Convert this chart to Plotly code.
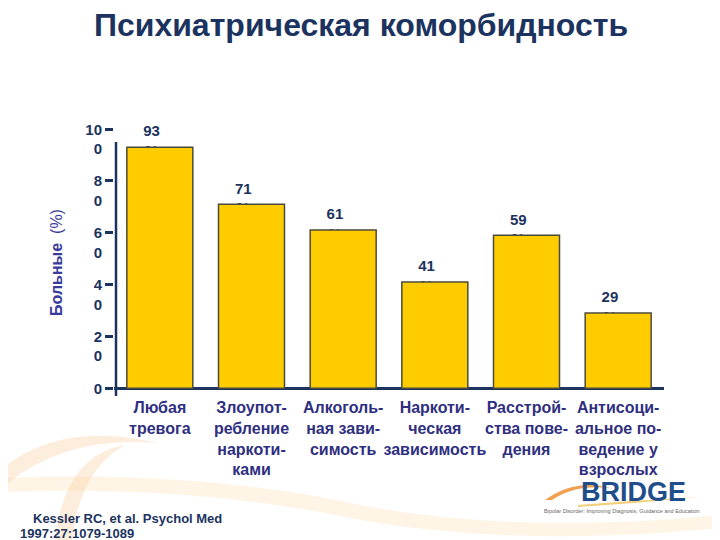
import plotly.graph_objects as go

# ---- data ----
categories = ["Любая<br>тревога",
              "Злоупот-<br>ребление<br>наркоти-<br>ками",
              "Алкоголь-<br>ная зави-<br>симость",
              "Наркоти-<br>ческая<br>зависимость",
              "Расстрой-<br>ства пове-<br>дения",
              "Антисоци-<br>альное по-<br>ведение у<br>взрослых"]
values = [93, 71, 61, 41, 59, 29]
value_labels = ["93<br>%", "71<br>%", "61<br>%", "41<br>%", "59<br>%", "29<br>%"]
y_tickvals = [0, 20, 40, 60, 80, 100]
y_ticktext = ["0<br> ", "2<br>0", "4<br>0", "6<br>0", "8<br>0", "10<br>0"]

title = "Психиатрическая коморбидность"
y_title = "<b>Больные</b>  (%)"
source_1 = "Kessler RC, et al. Psychol Med"
source_2 = "1997:27:1079-1089"

FONT = "Liberation Sans, Arial, sans-serif"
NAVY = "#1c3360"
LABEL = "#2f2f7f"

# page body has an 8px margin: figure origin sits at (8, 8) of the window
OFF = 8
W, H = 720 - OFF, 540 - OFF
# plot area in window pixels
L, R, T, B = 114, 664, 129, 396
def px(x):
    return (x - L) / (R - L)
def py(y):
    return (B - y) / (B - T)

idx = list(range(len(categories)))
LABEL_PAD = 1.8   # data units nudging the value labels upward

fig = go.Figure()

# value labels (under the bars; bars on an overlay axis hide most of the "%")
fig.add_trace(go.Scatter(
    x=[i - 0.09 for i in idx], y=[v + LABEL_PAD for v in values], mode="text",
    text=value_labels, textposition="middle center",
    textfont=dict(family=FONT, size=15, color=NAVY, weight="bold"),
    cliponaxis=False, hoverinfo="skip", showlegend=False,
    xaxis="x", yaxis="y"))

fig.add_trace(go.Bar(
    x=idx, y=values, width=0.72,
    marker=dict(color="#ffcc00", line=dict(color="#4b4b3c", width=1.5)),
    showlegend=False, xaxis="x2", yaxis="y2"))

yr = [-3, 100]
xr = [-0.5, 5.5]

# background swooshes
shapes = []
peach = "rgba(248,196,140,0.3)"
shapes.append(dict(type="path", xref="paper", yref="paper", layer="below",
    path=f"M {px(0)},{py(470)} Q {px(60)},{py(420)} {px(158)},{py(443)} Q {px(60)},{py(435)} {px(0)},{py(490)} Z",
    fillcolor=peach, line=dict(width=0)))
shapes.append(dict(type="path", xref="paper", yref="paper", layer="below",
    path=f"M {px(55)},{py(540)} Q {px(65)},{py(455)} {px(125)},{py(445)} Q {px(80)},{py(470)} {px(72)},{py(540)} Z",
    fillcolor=peach, line=dict(width=0)))
shapes.append(dict(type="path", xref="paper", yref="paper", layer="below",
    path=f"M {px(0)},{py(478)} Q {px(200)},{py(470)} {px(360)},{py(505)} Q {px(520)},{py(535)} {px(720)},{py(515)} L {px(720)},{py(528)} Q {px(520)},{py(548)} {px(360)},{py(520)} Q {px(200)},{py(485)} {px(0)},{py(492)} Z",
    fillcolor="rgba(250,215,160,0.25)", line=dict(width=0)))
# BRIDGE logo swoosh
shapes.append(dict(type="path", xref="paper", yref="paper",
    path=f"M {px(545)},{py(500)} Q {px(575)},{py(478)} {px(610)},{py(488)} Q {px(575)},{py(484)} {px(552)},{py(500)} Z",
    fillcolor="#f0a050", line=dict(width=0)))
shapes.append(dict(type="path", xref="paper", yref="paper",
    path=f"M {px(578)},{py(505)} Q {px(640)},{py(500)} {px(700)},{py(497)} Q {px(640)},{py(503)} {px(578)},{py(507)} Z",
    fillcolor="#f3cf7a", line=dict(width=0)))
# y axis line
shapes.append(dict(type="line", xref="paper", yref="paper",
    x0=px(116), x1=px(116), y0=py(396), y1=py(142),
    line=dict(color=NAVY, width=2.5)))

annotations = [
    dict(text=source_1, xref="paper", yref="paper", x=px(31), y=py(518),
         xanchor="left", yanchor="middle", showarrow=False,
         font=dict(family=FONT, size=13, color=NAVY, weight="bold")),
    dict(text=source_2, xref="paper", yref="paper", x=px(18), y=py(533),
         xanchor="left", yanchor="middle", showarrow=False,
         font=dict(family=FONT, size=13, color=NAVY, weight="bold")),
    dict(text="<b>BRIDGE</b>", xref="paper", yref="paper", x=px(633), y=py(492),
         xanchor="center", yanchor="middle", showarrow=False,
         font=dict(family=FONT, size=27, color="#1f4e8a")),
    dict(text="Bipolar Disorder: Improving Diagnosis, Guidance and Education",
         xref="paper", yref="paper", x=px(622), y=py(511),
         xanchor="center", yanchor="middle", showarrow=False,
         font=dict(family=FONT, size=5.5, color="#666666")),
]

fig.update_layout(
    width=W, height=H,
    margin=dict(l=L - OFF, r=720 - R, t=T - OFF, b=540 - B, pad=0),
    paper_bgcolor="white", plot_bgcolor="rgba(0,0,0,0)",
    title=dict(text="<b>" + title + "</b>", x=px(361), xref="paper", xanchor="center",
               y=1 - (25 - OFF) / H, yanchor="middle",
               font=dict(family=FONT, size=32, color=NAVY)),
    font=dict(family=FONT),
    xaxis=dict(range=xr, tickvals=idx, ticktext=categories, showgrid=False,
               showline=False, zeroline=False, ticks="", automargin=False,
               tickangle=0,
               tickfont=dict(family=FONT, size=16, color=LABEL, weight="bold")),
    yaxis=dict(range=yr, tickvals=y_tickvals, ticktext=y_ticktext,
               showgrid=False, showline=False, zeroline=True, automargin=False,
               zerolinecolor=NAVY, zerolinewidth=2.5,
               ticks="outside", ticklen=8, tickwidth=2.5, tickcolor=NAVY,
               ticklabelshift=10,
               tickfont=dict(family=FONT, size=15, color=NAVY, weight="bold"),
               title=dict(text=y_title, standoff=18,
                          font=dict(family=FONT, size=16, color="#3a3a9c"))),
    xaxis2=dict(range=xr, overlaying="x", visible=False),
    yaxis2=dict(range=yr, overlaying="y", visible=False),
    shapes=shapes,
    annotations=annotations,
)

fig.write_html("out.html")
